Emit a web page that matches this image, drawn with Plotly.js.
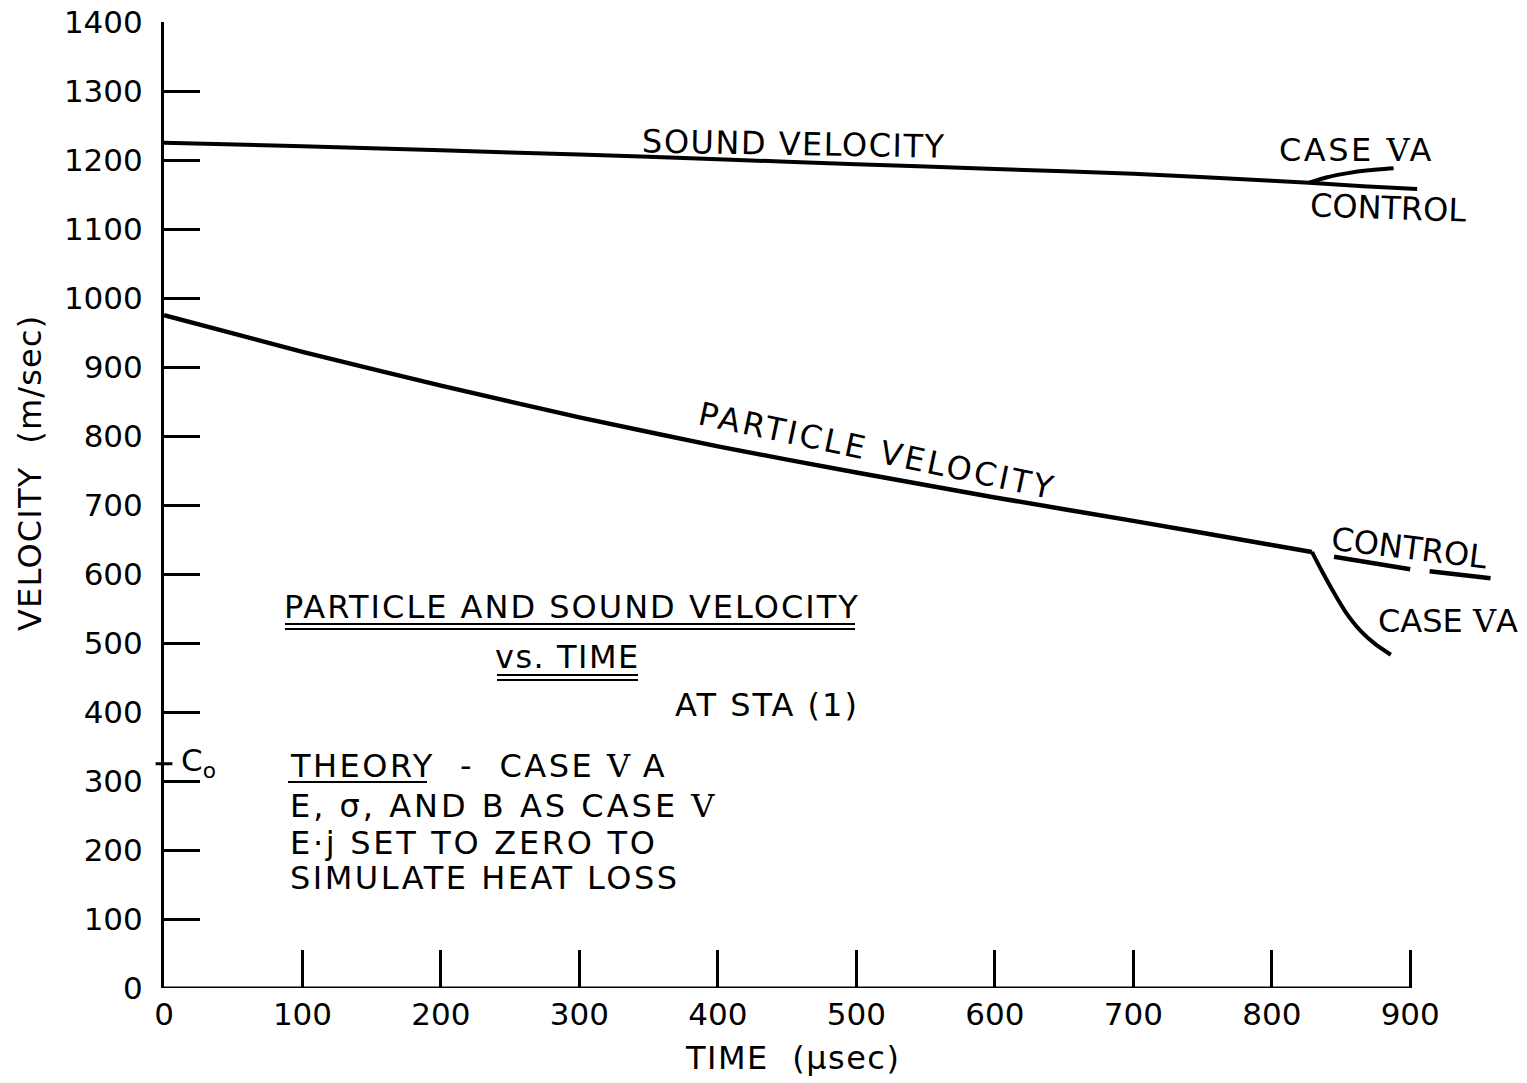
<!DOCTYPE html>
<html>
<head>
<meta charset="utf-8">
<script src="https://cdn.plot.ly/plotly-3.0.1.min.js"></script>
<style>
html,body{margin:0;padding:0;background:#fff;}
#chart{width:1527px;height:1083px;}
</style>
</head>
<body>
<div id="chart"></div>
<script>
// ---- data ----
const soundTime      = [0, 100, 200, 300, 400, 500, 600, 700, 800, 827];
const soundVel       = [1225, 1220, 1214, 1208, 1201, 1194, 1187, 1180, 1170, 1167];
const soundCaseTime  = [827, 840, 855, 870, 888];
const soundCaseVel   = [1167, 1175, 1181, 1185, 1188];
const soundCtrlTime  = [827, 866, 905];
const soundCtrlVel   = [1167, 1162, 1158];

const partTime       = [0, 100, 200, 300, 400, 500, 600, 700, 800, 829];
const partVel        = [975, 922, 873, 827, 785, 747, 711, 677, 642, 632];
const partCaseTime   = [829, 836, 844, 853, 864, 875, 886];
const partCaseVel    = [632, 605, 576, 546, 518, 498, 483];
const partCtrlTime   = [845, 900, null, 914, 958];
const partCtrlVel    = [625, 607, null, 604, 594];

const c0Time = [0];
const c0Vel  = [325];

const xTicks = [0, 100, 200, 300, 400, 500, 600, 700, 800, 900];
const yTicks = [0, 100, 200, 300, 400, 500, 600, 700, 800, 900, 1000, 1100, 1200, 1300, 1400];

// ---- layout geometry ----
const W = 1527, H = 1083;
const L = 164, R = 1521, T = 22, B = 988;
const px = x => (x - L) / (R - L);
const py = y => (B - y) / (B - T);
const FONT = 'DejaVu Sans, Liberation Sans, sans-serif';
const INK = '#000';
const sp = (t, ls) => '<span style="letter-spacing:' + ls + 'px">' + t + '</span>';
const V5 = '<span style="font-family:DejaVu Serif">\u2164</span>';

const lineStyle = w => ({color: INK, width: w, shape: 'spline', smoothing: 0.6});

const traces = [
  {x: soundTime, y: soundVel, mode: 'lines', line: lineStyle(4), name: 'Sound velocity'},
  {x: soundCaseTime, y: soundCaseVel, mode: 'lines', line: lineStyle(4), name: 'Sound velocity, Case VA'},
  {x: soundCtrlTime, y: soundCtrlVel, mode: 'lines', line: lineStyle(4), name: 'Sound velocity, Control'},
  {x: partTime, y: partVel, mode: 'lines', line: lineStyle(4.5), name: 'Particle velocity'},
  {x: partCaseTime, y: partCaseVel, mode: 'lines', line: lineStyle(4), name: 'Particle velocity, Case VA'},
  {x: partCtrlTime, y: partCtrlVel, mode: 'lines', line: {color: INK, width: 4.5}, connectgaps: false, name: 'Particle velocity, Control'},
  {x: c0Time, y: c0Vel, mode: 'markers', cliponaxis: false, name: 'C0',
   marker: {symbol: 'line-ew', size: 12, color: INK, line: {color: INK, width: 3}}}
];

function ann(text, x, y, opts) {
  return Object.assign({
    text: text, xref: 'paper', yref: 'paper', x: px(x), y: py(y),
    xanchor: 'center', yanchor: 'middle', showarrow: false,
    font: {family: FONT, size: 32, color: INK}
  }, opts || {});
}

const annotations = [
  ann(sp('SOUND VELOCITY', 1.5), 794, 144, {textangle: 1}),
  ann(sp('CASE ', 2.5) + V5 + sp('A', 2.5), 1356, 150),
  ann('CONTROL', 1388, 208, {textangle: 2}),
  ann(sp('PARTICLE VELOCITY', 3), 877, 451, {textangle: 12}),
  ann('CONTROL', 1409, 548, {textangle: 7}),
  ann('CASE ' + V5 + 'A', 1448, 621),
  ann(sp('PARTICLE AND SOUND VELOCITY', 2), 572, 607),
  ann(sp('vs. TIME', 1.5), 567, 657),
  ann(sp('AT STA (1)', 2), 767, 705),
  ann(sp('THEORY  -  CASE ', 2.5) + V5 + sp(' A', 2.5), 288, 766, {xanchor: 'left'}),
  ann(sp('E, \u03c3, AND B AS CASE ', 3) + V5, 288, 806, {xanchor: 'left'}),
  ann(sp('E\u00b7j SET TO ZERO TO', 2.7), 288, 843, {xanchor: 'left'}),
  ann(sp('SIMULATE HEAT LOSS', 2.5), 288, 878, {xanchor: 'left'}),
  ann('C<sub>o</sub>', 179, 762, {xanchor: 'left', font: {family: FONT, size: 31, color: INK}}),
  ann(sp('TIME  (\u03bcsec)', 1.5), 792, 1058),
  ann(sp('VELOCITY  (m/sec)', 1.2), 30, 473, {textangle: -90})
];

const hline = (x0, x1, y, w) => ({type: 'line', xref: 'paper', yref: 'paper',
  x0: px(x0), x1: px(x1), y0: py(y), y1: py(y), line: {color: INK, width: w}});

const shapes = [
  // x axis line, drawn only across the ticked span
  {type: 'line', xref: 'x', yref: 'y', x0: xTicks[0], x1: xTicks[xTicks.length - 1], y0: 0, y1: 0,
   line: {color: INK, width: 3}},
  hline(285, 855, 624, 2.2), hline(285, 855, 629, 2.2),
  hline(497, 638, 675, 2.2), hline(497, 638, 680, 2.2),
  hline(288, 427, 782, 2.2)
];

const layout = {
  width: W, height: H,
  margin: {l: L, r: W - R, t: T, b: H - B, pad: 0},
  paper_bgcolor: '#fff', plot_bgcolor: '#fff',
  showlegend: false,
  font: {family: FONT, color: INK},
  xaxis: {
    range: [0, 980], tickvals: xTicks, ticktext: xTicks.map(String),
    ticks: 'inside', ticklen: 38, tickwidth: 3, tickcolor: INK,
    showline: false, zeroline: false, showgrid: false,
    tickfont: {family: FONT, size: 31, color: INK}, ticklabelstandoff: 5
  },
  yaxis: {
    range: [0, 1400], tickvals: yTicks, ticktext: yTicks.map(String),
    ticks: 'inside', ticklen: 36, tickwidth: 3, tickcolor: INK,
    showline: true, linewidth: 3, linecolor: INK, zeroline: false, showgrid: false,
    tickfont: {family: FONT, size: 31, color: INK}, ticklabelstandoff: 12
  },
  annotations: annotations,
  shapes: shapes,
  hovermode: false
};

Plotly.newPlot('chart', traces, layout, {displayModeBar: false, staticPlot: true});
</script>
</body>
</html>
